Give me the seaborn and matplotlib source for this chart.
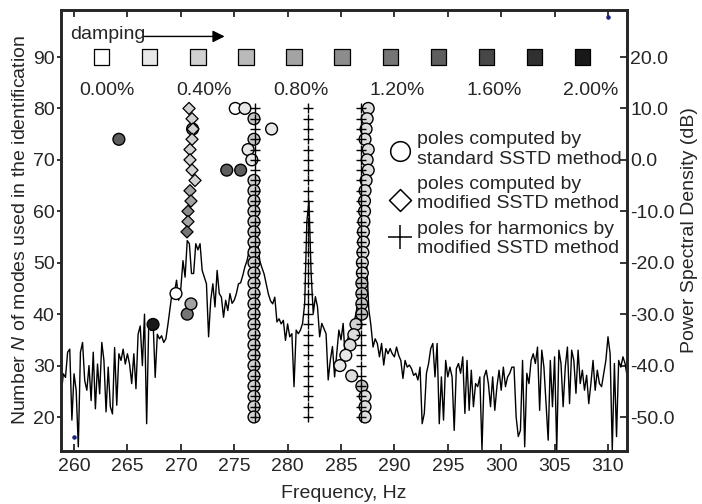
import numpy as np
import pandas as pd
import matplotlib
matplotlib.use("Agg")
import matplotlib.pyplot as plt
import matplotlib.colors as mcolors
from matplotlib.ticker import FormatStrFormatter
import seaborn as sns

# ---------------- data ----------------
# power spectral density (dB), sampled every 0.2 Hz starting at 258.8 Hz
spec_start_hz = 258.8
spec_step_hz = 0.2
psd_db = [
    -45.5, -41.6, -42.3, -37.4, -36.8, -50.6, -41.6, -44.8, -55.8, -37.4,
    -35.5, -42.9, -44.8, -40.0, -46.8, -37.4, -48.4, -39.7, -45.5, -35.5,
    -39.0, -49.0, -40.3, -48.0, -49.4, -36.5, -47.7, -37.7, -39.0, -36.8,
    -39.7, -37.7, -39.7, -43.5, -37.7, -44.5, -33.9, -32.3, -40.0, -30.0,
    -51.3, -31.6, -33.2, -31.3, -42.3, -33.9, -34.8, -34.2, -35.5, -34.8,
    -31.9, -28.7, -25.5, -25.8,
    -23.4, -27.3, -25.0, -19.6, -22.8, -15.7, -16.3, -22.1, -22.1, -16.3,
    -17.5, -16.3, -21.5, -22.8, -24.1, -34.4, -27.3, -24.1, -28.6, -21.5,
    -26.0, -26.7, -30.6, -27.3, -29.3, -26.0, -27.9, -27.3, -26.0, -24.1,
    -23.9, -22.5, -20.8, -19.6, -17.6, -15.7, -16.0, -14.0,
    -16.0, -19.7, -21.0, -22.2, -24.2, -26.1, -27.4, -28.0, -26.7, -31.5,
    -30.9, -31.9, -31.2, -35.1, -31.9, -34.4,
    -33.8, -44.1, -33.1, -33.8, -33.1, -31.8, -27.9, -12.0, -8.0, -22.0,
    -29.9, -26.6, -28.6, -34.4, -31.8, -32.8, -33.8, -42.8, -38.9, -36.3,
    -42.2, -37.6, -33.1, -35.0, -31.8, -38.9, -35.0, -33.8, -33.1, -31.8,
    -29.9, -27.3, -24.0, -14.0, -12.0, -20.0, -29.0,
    -32.2, -36.4, -34.8, -35.7, -38.3, -35.7, -39.9, -36.7, -37.7, -36.7,
    -37.7, -38.3, -36.4, -38.0, -39.0, -42.5, -39.0, -40.3, -39.9, -40.6,
    -41.9, -41.5, -42.8, -40.3, -51.3, -49.3, -41.5, -39.6, -36.7, -35.7,
    -42.2, -35.7, -51.3, -42.2, -50.6, -39.0, -42.2, -40.3, -42.2, -52.6,
    -40.6, -39.6, -41.5, -38.3, -49.3, -39.0, -48.7, -40.9, -48.0, -43.5,
    -44.1, -42.2, -56.4, -42.2, -40.9, -43.5, -48.0, -42.2, -48.7, -44.1,
    -40.9, -44.8, -40.3, -44.1, -42.2, -41.5, -40.3, -40.3, -50.0, -53.8,
    -52.6, -39.0, -55.8, -41.5, -43.5, -39.0, -37.7, -39.6, -36.4, -48.7,
    -37.0, -40.3, -47.4, -54.5, -39.0, -48.0, -38.3, -56.4, -37.0, -39.6,
    -48.0, -40.3, -36.4, -47.4, -37.0, -39.0, -45.4, -37.0, -43.5, -40.9,
    -44.8, -41.9, -47.4, -43.5, -39.0, -44.8, -40.9, -43.5, -44.1, -41.5,
    -39.0, -34.4, -37.7, -56.4, -39.6, -53.8, -39.0, -40.3, -38.3, -39.6,
    -42.2,
]

# poles computed by standard SSTD method (circles): frequency, N, damping (%)
circ_freq = [264.2, 267.4, 269.55, 270.6, 270.95, 271.1, 274.3, 275.6, 275.1, 276.0, 278.5,
             276.85, 276.85, 276.3, 276.65,
             276.85, 276.85, 276.85, 276.85, 276.85, 276.85, 276.85, 276.85,
             276.85, 276.85, 276.85, 276.85, 276.85, 276.85, 276.85, 276.85,
             276.85, 276.85, 276.85, 276.85, 276.85, 276.85, 276.85, 276.85,
             287.55, 287.45, 287.35, 287.25, 287.55, 287.45, 287.55, 287.35,
             287.25, 287.2, 287.2, 287.15, 287.1, 287.1, 287.05, 287.0, 287.0,
             286.95, 286.95, 286.95, 286.95,
             286.4, 286.2, 285.85, 285.45, 284.9, 286.0,
             286.95, 287.25, 287.25, 287.25]
circ_n = [74, 38, 44, 40, 42, 76, 68, 68, 80, 80, 76,
          78, 74, 72, 70,
          66, 64, 62, 60, 58, 56, 54, 52,
          50, 48, 46, 44, 42, 40, 38, 36,
          34, 32, 30, 28, 26, 24, 22, 20,
          80, 78, 76, 74, 72, 70, 68, 66,
          64, 62, 60, 58, 56, 54, 52, 50, 48,
          46, 44, 42, 40,
          38, 36, 34, 32, 30, 28,
          26, 24, 22, 20]
circ_damp = [1.4, 2.0, 0.0, 1.2, 0.8, 1.0, 1.4, 1.4, 0.0, 0.2, 0.2,
             0.5, 0.5, 0.2, 0.2,
             0.4, 0.4, 0.4, 0.4, 0.4, 0.4, 0.4, 0.4,
             0.4, 0.4, 0.4, 0.4, 0.4, 0.4, 0.4, 0.4,
             0.4, 0.4, 0.4, 0.4, 0.4, 0.4, 0.4, 0.4,
             0.3, 0.3, 0.3, 0.3, 0.3, 0.3, 0.3, 0.3,
             0.3, 0.3, 0.3, 0.3, 0.3, 0.3, 0.3, 0.3, 0.3,
             0.5, 0.5, 0.5, 0.5,
             0.4, 0.3, 0.3, 0.2, 0.2, 0.3,
             0.5, 0.3, 0.3, 0.3]

# poles computed by modified SSTD method (diamonds)
dia_freq = [270.77, 271.05, 271.14, 271.05, 270.86, 270.86, 271.05, 271.33,
            270.86, 270.95, 270.67, 270.67, 270.58]
dia_n = [80, 78, 76, 74, 72, 70, 68, 66, 64, 62, 60, 58, 56]
dia_damp = [0.4, 0.4, 0.4, 0.4, 0.4, 0.4, 0.4, 0.4, 0.8, 0.8, 1.0, 0.8, 1.2]

# poles for harmonics by modified SSTD method (+)
harm_freq_columns = [276.9, 281.92, 286.85]
harm_n = [20, 22, 24, 26, 28, 30, 32, 34, 36, 38, 40, 42, 44, 46, 48, 50,
          52, 54, 56, 58, 60, 62, 64, 66, 68, 70, 72, 74, 76, 78, 80]

# damping colour scale
damping_levels = [0.0, 0.2, 0.4, 0.6, 0.8, 1.0, 1.2, 1.4, 1.6, 1.8, 2.0]
damping_tick_labels = ["0.00%", "0.40%", "0.80%", "1.20%", "1.60%", "2.00%"]

# small range-marker dots in the corners
corner_freq = [260.0, 310.0]
corner_n = [16.1, 97.7]

left_ticks = [20, 30, 40, 50, 60, 70, 80, 90]
right_ticks = [-50, -40, -30, -20, -10, 0, 10, 20]
x_ticks = [260, 265, 270, 275, 280, 285, 290, 295, 300, 305, 310]

legend_texts = ["poles computed by\nstandard SSTD method",
                "poles computed by\nmodified SSTD method",
                "poles for harmonics by\nmodified SSTD method"]

# ---------------- styling ----------------
sns.set_theme(style="ticks")
plt.rcParams["font.family"] = ["Liberation Sans", "DejaVu Sans"]
plt.rcParams["mathtext.fontset"] = "custom"
plt.rcParams["mathtext.rm"] = "Liberation Sans"
plt.rcParams["mathtext.it"] = "Liberation Sans:italic"
plt.rcParams["axes.unicode_minus"] = False
FS = 14


def damp_color(d):
    g = 1.0 - 0.45 * d
    return mcolors.to_hex((g, g, g))


spec = pd.DataFrame({"psd": psd_db})
spec["freq"] = spec_start_hz + spec_step_hz * np.arange(len(spec))

circ = pd.DataFrame({"freq": circ_freq, "n": circ_n, "damp": circ_damp})
circ["color"] = circ["damp"].map(damp_color)
dia = pd.DataFrame({"freq": dia_freq, "n": dia_n, "damp": dia_damp})
dia["color"] = dia["damp"].map(damp_color)
harm = pd.DataFrame([(f, n) for f in harm_freq_columns for n in harm_n],
                    columns=["freq", "n"])
scale = pd.DataFrame({"damp": damping_levels})
scale["color"] = scale["damp"].map(damp_color)
scale["x"] = 262.6 + 4.5 * np.arange(len(scale))

W, H = 702, 504
fig = plt.figure(figsize=(W / 100, H / 100), dpi=100)
ax = fig.add_axes([61 / W, 53 / H, 566 / W, 441 / H])
ax2 = ax.twinx()

# spectrum on the right axis
sns.lineplot(data=spec, x="freq", y="psd", ax=ax2, color="black", lw=1.0,
             estimator=None, sort=False)
ax2.set_ylim(-56.61, 29.14)
ax.set_ylim(13.39, 99.14)
ax.set_xlim(258.78, 311.78)
ax.set_zorder(ax2.get_zorder() + 1)
ax.patch.set_visible(False)

# poles
sns.scatterplot(data=circ, x="freq", y="n", hue="color",
                palette={c: c for c in circ["color"].unique()},
                marker="o", s=72, edgecolor="black", linewidth=1.0,
                legend=False, ax=ax, zorder=3)
sns.scatterplot(data=dia, x="freq", y="n", hue="color",
                palette={c: c for c in dia["color"].unique()},
                marker="D", s=38, edgecolor="black", linewidth=0.9,
                legend=False, ax=ax, zorder=3)
sns.scatterplot(data=harm, x="freq", y="n", marker="+", s=55,
                color="black", linewidth=1.0, legend=False, ax=ax, zorder=4)

# damping scale
sns.scatterplot(data=scale, x="x", y=[90] * len(scale), hue="color",
                palette={c: c for c in scale["color"]}, marker="s", s=120,
                edgecolor="black", linewidth=0.9, legend=False, ax=ax,
                zorder=3, clip_on=False)
for k, lab in enumerate(damping_tick_labels):
    ax.text(263.1 + 9.06 * k, 83.5, lab, ha="center", va="center", fontsize=FS)
ax.text(259.6, 94.3, "damping", ha="left", va="center", fontsize=FS)
ax.annotate("", xy=(274.1, 94.0), xytext=(266.6, 94.0),
            arrowprops=dict(arrowstyle="-|>", color="black", lw=1.0,
                            mutation_scale=18, shrinkA=0, shrinkB=0))

# corner dots
ax.scatter(corner_freq, corner_n, s=5, color="#1a237e", zorder=5, clip_on=False)

# legend
leg_x = 290.5
ax.scatter([leg_x], [71.7], marker="o", s=200, facecolor="white",
           edgecolor="black", linewidth=1.1, zorder=5)
ax.scatter([leg_x], [62.2], marker="D", s=125, facecolor="white",
           edgecolor="black", linewidth=1.1, zorder=5)
ax.scatter([leg_x], [55.0], marker="+", s=280, color="black",
           linewidth=1.1, zorder=5)
for txt, y in zip(legend_texts, [72.0, 63.4, 54.6]):
    ax.text(292.1, y, txt, ha="left", va="center", fontsize=FS,
            linespacing=1.2)

# axes formatting
ax.set_xticks(x_ticks)
ax.set_yticks(left_ticks)
ax2.set_yticks(right_ticks)
ax2.yaxis.set_major_formatter(FormatStrFormatter("%.1f"))
ax.tick_params(axis="x", direction="in", top=True, length=5, width=1.3,
               labelsize=FS, pad=5)
ax.tick_params(axis="y", direction="out", length=3, width=1.3, labelsize=FS,
               pad=1.5)
ax2.tick_params(axis="y", direction="in", length=5, width=1.3, labelsize=FS,
                pad=2.5)
for a in (ax, ax2):
    for sp in a.spines.values():
        sp.set_linewidth(1.9)
        sp.set_visible(True)

ax.set_xlabel("Frequency, Hz", fontsize=FS, labelpad=7)
ax.set_ylabel("Number $\\mathit{N}$ of modes used in the identification",
              fontsize=FS, labelpad=3)
ax2.set_ylabel("Power Spectral Density (dB)", fontsize=FS, labelpad=4)

fig.savefig("out.png", dpi=100)
